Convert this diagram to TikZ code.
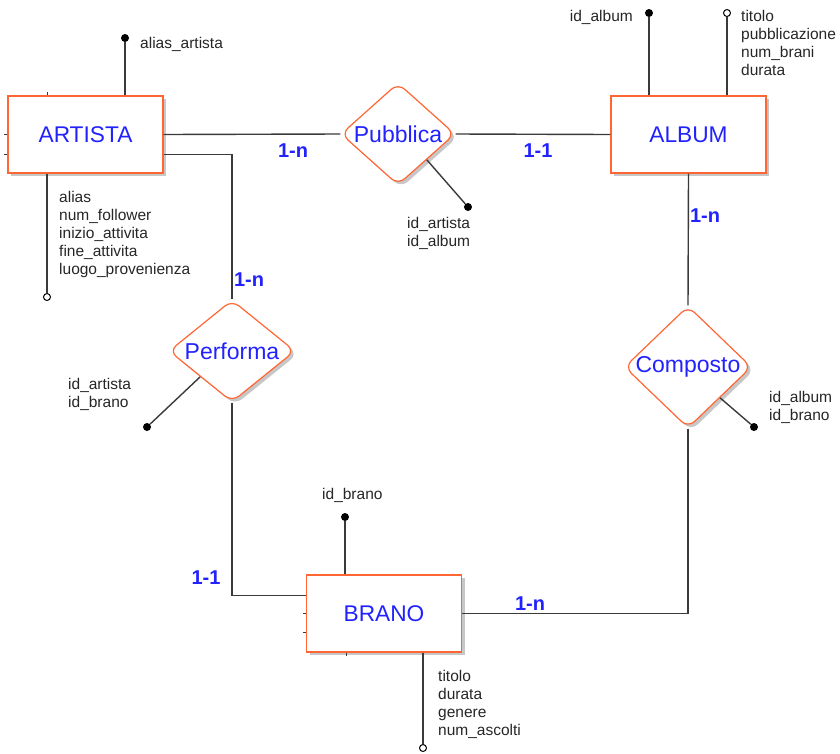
\documentclass[tikz,border=0pt]{standalone}
\usepackage{fontspec}
\setmainfont{Liberation Sans}
\usetikzlibrary{shapes.geometric,shadows,calc}
\definecolor{erorange}{HTML}{FF6633}
\definecolor{erblue}{HTML}{2222FF}
\definecolor{erline}{HTML}{3A3A3A}
\begin{document}
\begin{tikzpicture}[x=1pt,y=-1pt,
 ent/.style={draw=erorange, line width=1.2pt, fill=white, minimum width=155pt, minimum height=77pt, inner sep=0,
   font=\fontsize{22.7}{26}\selectfont, text=erblue,
   drop shadow={shadow xshift=3pt, shadow yshift=-3pt, opacity=1, fill=black!22}},
 rel/.style={diamond, draw=erorange, line width=1.2pt, fill=white, rounded corners=9pt, inner sep=0,
   drop shadow={shadow xshift=3pt, shadow yshift=-3pt, opacity=1, fill=black!22},
   label={[font=\fontsize{23}{26}\selectfont, text=erblue]center:#1}},
 conn/.style={draw=erline, line width=1.4pt},
 tick/.style={draw=erline, line width=1pt},
 card/.style={font=\bfseries\fontsize{20}{23}\selectfont, text=erblue, inner sep=0},
 attr/.style={font=\fontsize{15.5}{18}\selectfont, text=black!85, inner sep=0, align=left},
 keydot/.style={circle, fill=black, inner sep=0, minimum size=8pt},
 optdot/.style={circle, draw=black, fill=white, line width=1pt, inner sep=0, minimum size=7pt},
]
\useasboundingbox (0,0) rectangle (840,753);

% entities and relations
\node[ent] (art) at (85.5,134.5) {ARTISTA};
\node[ent] (alb) at (688.5,134.5) {ALBUM};
\node[ent] (bra) at (384,613.5) {BRANO};
\node[rel=Pubblica, minimum width=114pt, minimum height=102pt] (pub) at (398,134) {};
\node[rel=Performa, minimum width=126pt, minimum height=102pt] (perf) at (232,351) {};
\node[rel=Composto, minimum width=127pt, minimum height=122pt] (comp) at (688,367) {};

% small edge ticks
\draw[tick] (art.north -| 47,0) -- +(0,-3);
\draw[tick] (art.west) -- +(-3,0);
\draw[tick] ($(art.west)+(0,20)$) -- +(-3,0);
\draw[tick] (bra.west) -- +(-3,0);
\draw[tick] ($(bra.west)+(0,19)$) -- +(-3,0);
\draw[tick] (bra.south -| 346,0) -- +(0,3);

% connectors
\draw[conn] (art.east) -- (pub.west);
\draw[conn] (pub.east) -- (alb.west);
\draw[conn] ($(art.east)+(0,20)$) -| (perf.north);
\draw[conn] (perf.south) |- ($(bra.west)+(0,-18)$);
\draw[conn] (alb.south) -- (comp.north);
\draw[conn] (comp.south) |- (bra.east);

% cardinalities
\node[card] (c1) at (293,151) {1-n};
\node[card] (c2) at (538,151) {1-1};
\node[card] (c3) at (249,280) {1-n};
\node[card] (c4) at (206,578) {1-1};
\node[card] (c5) at (705,216) {1-n};
\node[card] (c6) at (530,604) {1-n};

% ARTISTA attributes
\node[keydot] (k1) at (125,38) {};
\draw[conn] (art.north -| k1) -- (k1);
\node[attr, anchor=west] (t1) at (140,44) {alias\_artista};
\node[optdot] (o1) at (47,297) {};
\draw[conn] (art.south -| o1) -- (o1);
\node[attr, anchor=north west] (t2) at (59,191) {alias\\num\_follower\\inizio\_attivita\\fine\_attivita\\luogo\_provenienza};

% Pubblica attributes
\node[keydot] (k2) at (468,207) {};
\draw[conn] (pub.south east) -- (k2);
\node[attr, anchor=north west] (t3) at (407,217) {id\_artista\\id\_album};

% ALBUM attributes
\node[keydot] (k3) at (649,13) {};
\draw[conn] (alb.north -| k3) -- (k3);
\node[attr, anchor=east] (t4) at (633,17) {id\_album};
\node[optdot] (o2) at (727,13) {};
\draw[conn] (alb.north -| o2) -- (o2);
\node[attr, anchor=north west] (t5) at (741,10) {titolo\\pubblicazione\\num\_brani\\durata};

% Performa attributes
\node[keydot] (k4) at (147,427) {};
\draw[conn] (perf.south west) -- (k4);
\node[attr, anchor=north west] (t6) at (68,378) {id\_artista\\id\_brano};

% Composto attributes
\node[keydot] (k5) at (754,427) {};
\draw[conn] (comp.south east) -- (k5);
\node[attr, anchor=north west] (t7) at (769,391) {id\_album\\id\_brano};

% BRANO attributes
\node[keydot] (k6) at (345,517) {};
\draw[conn] (bra.north -| k6) -- (k6);
\node[attr, anchor=west] (t8) at (322,495) {id\_brano};
\node[optdot] (o3) at (423,748) {};
\draw[conn] (bra.south -| o3) -- (o3);
\node[attr, anchor=north west] (t9) at (438,670) {titolo\\durata\\genere\\num\_ascolti};
\end{tikzpicture}
\end{document}
